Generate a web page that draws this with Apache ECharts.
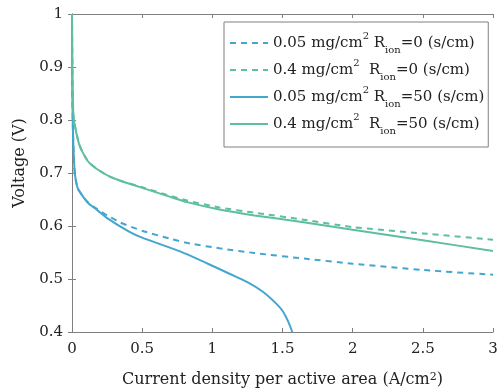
<!DOCTYPE html>
<html><head><meta charset="utf-8">
<script src="https://cdn.jsdelivr.net/npm/echarts@6/dist/echarts.min.js"></script>
<style>html,body{margin:0;padding:0;background:#fff}#c{width:498px;height:390px}</style>
</head><body><div id="c"></div>
<script>
// Series names and legend labels
const seriesNames = ['a005_r0', 'a04_r0', 'a005_r50', 'a04_r50'];
const legendLabels = [
  '0.05 mg/cm{sup|2} R{sub|ion}=0 (s/cm)',
  '0.4 mg/cm{sup|2}  R{sub|ion}=0 (s/cm)',
  '0.05 mg/cm{sup|2} R{sub|ion}=50 (s/cm)',
  '0.4 mg/cm{sup|2}  R{sub|ion}=50 (s/cm)'
];
// 0.05 mg/cm2, Rion=0 (dashed blue)
const I_005_r0 = [0, 0.002, 0.005, 0.01, 0.02, 0.04, 0.08, 0.12, 0.18, 0.25, 0.34, 0.5, 0.7, 0.84, 1.05, 1.3, 1.67, 2.0, 2.5, 3.0];
const V_005_r0 = [1.0, 0.86, 0.8, 0.75, 0.70, 0.672, 0.655, 0.643, 0.632, 0.62, 0.607, 0.591, 0.576, 0.567, 0.558, 0.549, 0.538, 0.529, 0.517, 0.508];
// 0.4 mg/cm2, Rion=0 (dashed green)
const I_04_r0 = [0, 0.002, 0.005, 0.01, 0.02, 0.05, 0.08, 0.12, 0.18, 0.27, 0.35, 0.5, 0.7, 0.82, 1.05, 1.3, 1.65, 2.0, 2.5, 3.0];
const V_04_r0 = [1.0, 0.9, 0.85, 0.81, 0.79, 0.755, 0.737, 0.72, 0.707, 0.693, 0.685, 0.673, 0.657, 0.648, 0.635, 0.625, 0.612, 0.598, 0.586, 0.574];
// 0.05 mg/cm2, Rion=50 (solid blue)
const I_005_r50 = [0, 0.002, 0.005, 0.01, 0.02, 0.04, 0.08, 0.12, 0.18, 0.25, 0.41, 0.5, 0.77, 1.0, 1.13, 1.25, 1.36, 1.45, 1.5, 1.54, 1.57];
const V_005_r50 = [1.0, 0.86, 0.8, 0.75, 0.70, 0.672, 0.655, 0.642, 0.63, 0.615, 0.589, 0.578, 0.552, 0.525, 0.509, 0.494, 0.476, 0.455, 0.44, 0.42, 0.4];
// 0.4 mg/cm2, Rion=50 (solid green)
const I_04_r50 = [0, 0.002, 0.005, 0.01, 0.02, 0.05, 0.08, 0.12, 0.18, 0.27, 0.35, 0.5, 0.7, 0.82, 1.05, 1.3, 1.65, 2.0, 2.5, 3.0];
const V_04_r50 = [1.0, 0.9, 0.85, 0.81, 0.79, 0.755, 0.737, 0.72, 0.707, 0.693, 0.685, 0.672, 0.655, 0.645, 0.631, 0.62, 0.607, 0.593, 0.573, 0.553];

const blue = '#43a6cf', green = '#5ebea2';
const FONT = 'DejaVu Serif';
const zip = (a, b) => a.map((x, i) => [x, b[i]]);
const dash = [6, 5];

const chart = echarts.init(document.getElementById('c'));
const axisLine = {show: true, lineStyle: {color: '#808080', width: 1}};
const tick = {show: true, inside: true, length: 4, lineStyle: {color: '#808080'}};
chart.setOption({
  animation: false,
  grid: {left: 72, right: 5, top: 14, bottom: 58, outerBoundsMode: 'none', containLabel: false},
  xAxis: [{
    type: 'value', min: 0, max: 3, interval: 0.5,
    axisLine, axisTick: tick, splitLine: {show: false},
    axisLabel: {fontFamily: FONT, fontSize: 15, color: '#222', margin: 10},
    name: 'Current density per active area (A/cm{sup|2})',
    nameLocation: 'middle', nameGap: 40,
    nameTextStyle: {fontFamily: FONT, fontSize: 16, color: '#222',
      rich: {sup: {fontFamily: FONT, fontSize: 11, verticalAlign: 'top', lineHeight: 10, color: '#222'}}}
  }, {
    type: 'value', position: 'top', min: 0, max: 3, interval: 0.5,
    axisLine, axisTick: tick, axisLabel: {show: false}, splitLine: {show: false}
  }],
  yAxis: [{
    type: 'value', min: 0.4, max: 1, interval: 0.1,
    axisLine, axisTick: tick, splitLine: {show: false},
    axisLabel: {fontFamily: FONT, fontSize: 15, color: '#222', margin: 9,
      formatter: v => (Math.round(v * 10) / 10).toString()},
    name: 'Voltage (V)', nameLocation: 'middle', nameGap: 40,
    nameTextStyle: {fontFamily: FONT, fontSize: 16, color: '#222', padding: [0, 0, 0, 20]}
  }, {
    type: 'value', position: 'right', min: 0.4, max: 1, interval: 0.1,
    axisLine, axisTick: tick, axisLabel: {show: false}, splitLine: {show: false}
  }],
  legend: {
    orient: 'vertical', left: 224, top: 22,
    padding: [9, 4, 11, 5], itemGap: 3, itemWidth: 38, itemHeight: 14,
    borderColor: '#808080', borderWidth: 1, backgroundColor: '#fff',
    itemStyle: {opacity: 0},
    data: seriesNames,
    formatter: name => legendLabels[seriesNames.indexOf(name)],
    textStyle: {fontFamily: FONT, fontSize: 15, color: '#222', lineHeight: 24,
      rich: {
        sup: {fontFamily: FONT, fontSize: 10, verticalAlign: 'top', lineHeight: 10, color: '#222'},
        sub: {fontFamily: FONT, fontSize: 10, verticalAlign: 'bottom', lineHeight: 4, color: '#222'}
      }}
  },
  series: [
    {name: seriesNames[0], type: 'line', data: zip(I_005_r0, V_005_r0), symbol: 'none', smooth: 0.2,
      lineStyle: {color: blue, width: 2, type: dash}, itemStyle: {color: blue}},
    {name: seriesNames[1], type: 'line', data: zip(I_04_r0, V_04_r0), symbol: 'none', smooth: 0.2,
      lineStyle: {color: green, width: 2, type: dash}, itemStyle: {color: green}},
    {name: seriesNames[2], type: 'line', data: zip(I_005_r50, V_005_r50), symbol: 'none', smooth: 0.2,
      lineStyle: {color: blue, width: 2}, itemStyle: {color: blue}},
    {name: seriesNames[3], type: 'line', data: zip(I_04_r50, V_04_r50), symbol: 'none', smooth: 0.2,
      lineStyle: {color: green, width: 2}, itemStyle: {color: green}}
  ]
});
</script></body></html>
